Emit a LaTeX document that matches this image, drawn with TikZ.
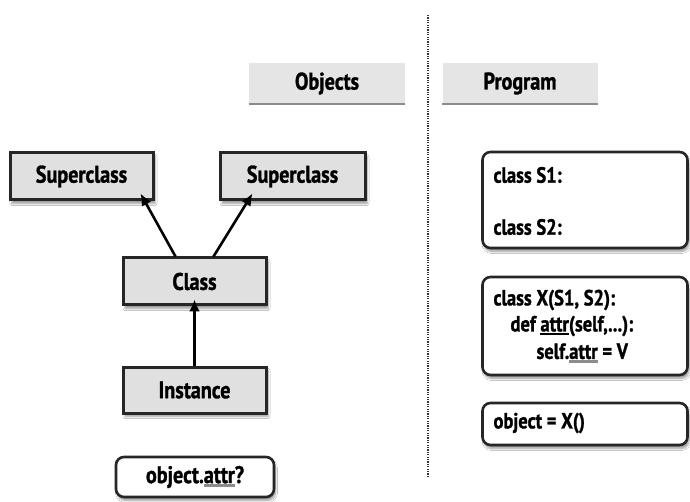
\documentclass[tikz,border=0pt]{standalone}
\usepackage{fontspec}
\setmainfont{PT Sans}[FakeStretch=0.84,BoldFeatures={FakeBold=1.2}]
\usetikzlibrary{arrows.meta,shadows.blur}
\usepackage{calc}
\newcommand{\grayul}[1]{\leavevmode\rlap{\textcolor{black!45}{\rule[-3.8pt]{\widthof{#1}}{2.8pt}}}#1}
\newcommand{\blackul}[1]{\leavevmode\rlap{\rule[-3.8pt]{\widthof{#1}}{2.2pt}}#1}
\definecolor{boxfill}{gray}{0.88}
\definecolor{headfill}{gray}{0.9}
\tikzset{
  x=1pt,y=-1pt,
  txt/.style={font=\bfseries\fontsize{22}{26}\selectfont},
  bigtxt/.style={font=\bfseries\fontsize{24}{28}\selectfont},
  objbox/.style={draw=black!85,line width=3pt,fill=boxfill,bigtxt,
    blur shadow={shadow xshift=2pt,shadow yshift=-3.5pt,shadow blur steps=6,shadow opacity=40}},
  codebox/.style={draw=black!85,line width=2.6pt,fill=white,rounded corners=8pt,
    blur shadow={shadow xshift=1.5pt,shadow yshift=-3.5pt,shadow blur steps=6,shadow opacity=40}},
  headbox/.style={fill=headfill,bigtxt},
  link/.style={line width=2.6pt,-{Latex[length=12pt,width=11pt]}},
}
\begin{document}
\begin{tikzpicture}
\useasboundingbox (0,0) rectangle (690,502);
\fill[white] (0,0) rectangle (690,502);

% column headers
\node[headbox,minimum width=156pt,minimum height=41pt] (objhead) at (327,83.5) {Objects};
\draw[black!45,line width=2.5pt] (objhead.south west) -- (objhead.south east);
\node[headbox,minimum width=155pt,minimum height=41pt] (proghead) at (520,83.5) {Program};
\draw[black!45,line width=2.5pt] (proghead.south west) -- (proghead.south east);

% separator
\coordinate (septop) at (428,15);
\coordinate (sepbot) at (428,476);
\draw[black!80,line width=1.8pt,dash pattern=on 1.2pt off 1.2pt] (septop) -- (sepbot);

% object tree
\node[objbox,minimum width=143pt,minimum height=47pt] (sup1) at (81.5,176.5) {Superclass};
\node[objbox,minimum width=145pt,minimum height=47pt] (sup2) at (292.5,176.5) {Superclass};
\node[objbox,minimum width=143pt,minimum height=47pt] (cls) at (194.5,281.5) {Class};
\node[objbox,minimum width=143pt,minimum height=46pt] (inst) at (194.5,390) {Instance};
\node[codebox,bigtxt,minimum width=158pt,minimum height=40pt] (query) at (195,477) {object.\grayul{attr}?};

\draw[link] ([xshift=-19pt]cls.north) -- ([xshift=-14pt,yshift=8pt]sup1.south east);
\draw[link] ([xshift=19pt]cls.north) -- ([xshift=-114pt,yshift=8pt]sup2.south east);
\draw[link] (inst.north) -- ([yshift=7pt]cls.south);

% program code
\node[codebox,minimum width=205pt,minimum height=96pt] (s12) at (585,200) {};
\node[txt,anchor=west] (s1) at (490,175) {class S1:};
\node[txt,anchor=west] (s2) at (490,227) {class S2:};

\node[codebox,minimum width=205pt,minimum height=98pt] (xdef) at (585,326) {};
\node[txt,anchor=west] (x1) at (490,300) {class X(S1, S2):};
\node[txt,anchor=west] (x2) at (507,326) {def \blackul{attr}(self,...):};
\node[txt,anchor=west] (x3) at (533,353) {self.\grayul{attr} = V};

\node[codebox,minimum width=205pt,minimum height=42pt] (objx) at (585,424) {};
\node[txt,anchor=west] (o1) at (490,423) {object = X()};
\end{tikzpicture}
\end{document}
